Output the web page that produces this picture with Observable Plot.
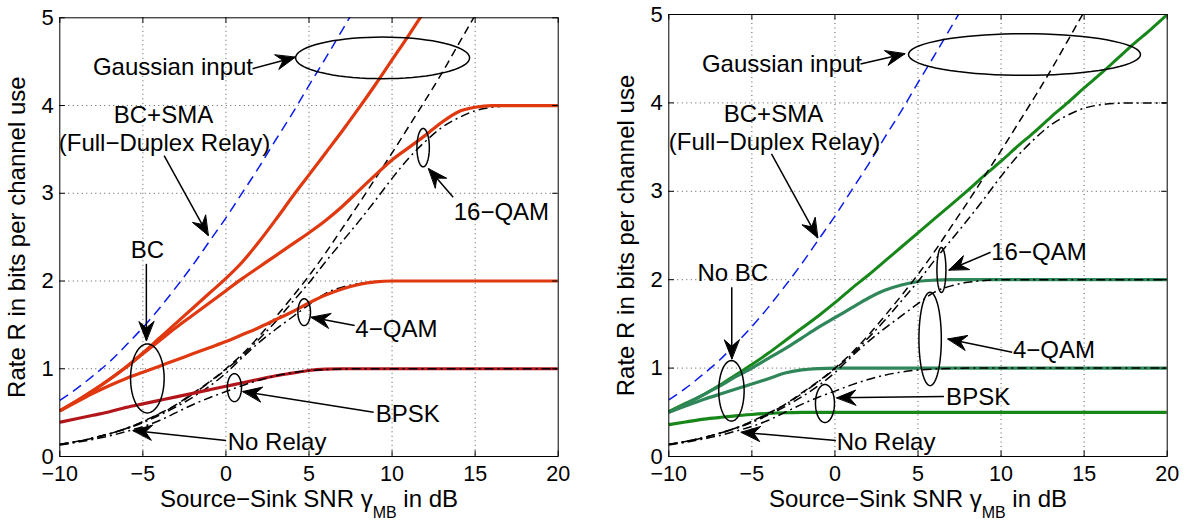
<!DOCTYPE html>
<html><head><meta charset="utf-8">
<script src="https://cdn.jsdelivr.net/npm/d3@7"></script>
<script src="https://cdn.jsdelivr.net/npm/@observablehq/plot@0.6"></script>
<style>
body{margin:0;background:#fff;}
#wrap{display:flex;width:1186px;height:520px;overflow:hidden;}
#wrap svg{flex:none;}
</style></head><body><div id="wrap"></div>
<script>
// ---------- data ----------
const snr = [-10,-9,-8,-7,-6,-5,-4,-3,-2,-1,0,1,2,3,4,5,6,7,8,9,10,11,12,13,14,15,16,17,18,19,20];
const xTicks = [-10,-5,0,5,10,15,20];
const yTicks = [0,1,2,3,4,5];
const xGrid = [-5,0,5,10,15];
const yGrid = [1,2,3,4];

// common curves
const gaussSMA = [0.64,0.77,0.92,1.08,1.27,1.47,1.69,1.93,2.18,2.45,2.72,3.01,3.30,3.61,3.91,4.23,4.54,4.86,5.18,5.50,null,null,null,null,null,null,null,null,null,null,null];
const gaussNR  = [0.14,0.17,0.21,0.26,0.32,0.40,0.49,0.59,0.72,0.85,1.00,1.17,1.37,1.59,1.82,2.06,2.32,2.60,2.88,3.17,3.46,3.76,4.06,4.37,4.70,5.03,5.35,null,null,null,null];
const bpskNR   = [0.13,0.16,0.195,0.235,0.285,0.34,0.41,0.50,0.59,0.67,0.74,0.81,0.87,0.92,0.955,0.978,0.99,0.997,1,1,1,1,1,1,1,1,1,1,1,1,1];
const qam4NR   = [0.137,0.17,0.21,0.26,0.315,0.385,0.47,0.565,0.675,0.80,0.95,1.13,1.30,1.45,1.59,1.73,1.86,1.93,1.97,1.99,2,2,2,2,2,2,2,2,2,2,2];
const qam16NR  = [0.137,0.17,0.21,0.26,0.32,0.395,0.485,0.585,0.71,0.845,0.99,1.15,1.34,1.54,1.76,1.98,2.22,2.45,2.68,2.92,3.17,3.40,3.59,3.75,3.86,3.94,3.98,3.995,4,4,4];

// left panel: full-duplex relay with BC
const gaussBC  = [0.52,0.63,0.75,0.88,1.02,1.18,1.35,1.52,1.69,1.86,2.03,2.22,2.45,2.70,2.96,3.21,3.46,3.71,3.97,4.24,4.52,4.80,5.09,5.38,null,null,null,null,null,null,null];
const qam16BC  = [0.52,0.63,0.75,0.88,1.02,1.17,1.32,1.47,1.61,1.75,1.89,2.03,2.16,2.29,2.42,2.55,2.69,2.85,3.03,3.21,3.38,3.52,3.66,3.81,3.93,3.98,4,4,4,4,4];
const qam4BC   = [0.52,0.62,0.72,0.81,0.89,0.96,1.03,1.10,1.17,1.24,1.31,1.39,1.47,1.56,1.65,1.75,1.84,1.91,1.96,1.99,2,2,2,2,2,2,2,2,2,2,2];
const bpskBC   = [0.39,0.43,0.47,0.51,0.56,0.60,0.64,0.68,0.72,0.76,0.80,0.84,0.88,0.92,0.95,0.98,0.995,1,1,1,1,1,1,1,1,1,1,1,1,1,1];

// right panel: no BC
const gaussHD  = [0.51,0.60,0.69,0.80,0.92,1.04,1.17,1.31,1.45,1.59,1.74,1.90,2.05,2.21,2.37,2.53,2.69,2.85,3.01,3.18,3.34,3.51,3.67,3.84,4.00,4.17,4.33,4.50,4.67,4.83,5.0];
const qam16HD  = [0.50,0.59,0.69,0.79,0.90,1.00,1.11,1.22,1.34,1.46,1.57,1.68,1.79,1.88,1.94,1.98,1.995,2,2,2,2,2,2,2,2,2,2,2,2,2,2];
const qam4HD   = [0.50,0.57,0.64,0.70,0.76,0.82,0.88,0.945,0.98,0.995,1,1,1,1,1,1,1,1,1,1,1,1,1,1,1,1,1,1,1,1,1];
const bpskHD   = [0.36,0.39,0.42,0.44,0.46,0.475,0.487,0.495,0.499,0.5,0.5,0.5,0.5,0.5,0.5,0.5,0.5,0.5,0.5,0.5,0.5,0.5,0.5,0.5,0.5,0.5,0.5,0.5,0.5,0.5,0.5];

// annotations
const textL = [
  {t:"Gaussian input", x:-3.19, y:4.437},
  {t:"BC+SMA", x:-3.76, y:3.886},
  {t:"(Full\u2212Duplex Relay)", x:-3.70, y:3.567},
  {t:"BC", x:-4.72, y:2.35},
  {t:"16\u2212QAM", x:16.58, y:2.785},
  {t:"4\u2212QAM", x:10.26, y:1.447},
  {t:"BPSK", x:10.95, y:0.486},
  {t:"No Relay", x:3.08, y:0.163}
];
const textR = [
  {t:"Gaussian input", x:-3.19, y:4.44},
  {t:"BC+SMA", x:-3.70, y:3.87},
  {t:"(Full\u2212Duplex Relay)", x:-3.64, y:3.555},
  {t:"No BC", x:-6.15, y:2.067},
  {t:"16\u2212QAM", x:12.28, y:2.31},
  {t:"4\u2212QAM", x:13.18, y:1.20},
  {t:"BPSK", x:8.62, y:0.67},
  {t:"No Relay", x:3.08, y:0.162}
];
const arrowsL = [
  [1.6,4.42,4.17,4.55],
  [-3.72,3.43,-1.07,2.52],
  [13.68,2.955,12.2,3.28],
  [-4.79,2.196,-4.79,1.322],
  [7.75,1.493,5.13,1.588],
  [8.89,0.505,1.02,0.741],
  [0.0,0.182,-5.59,0.296]
];
const arrowsR = [
  [1.54,4.44,4.21,4.555],
  [-3.82,3.424,-1.04,2.474],
  [9.37,2.31,6.86,2.11],
  [-6.21,1.915,-6.21,1.105],
  [10.67,1.18,6.8,1.33],
  [6.56,0.679,0.11,0.664],
  [0.06,0.181,-5.64,0.275]
];
const ellipsesL = [
  {cx:9.43, cy:4.543, rx:87, ry:20.8},
  {cx:-4.73, cy:0.89, rx:16.8, ry:34.5},
  {cx:4.71, cy:1.645, rx:6.3, ry:13.4},
  {cx:0.51, cy:0.785, rx:7.1, ry:14},
  {cx:11.87, cy:3.52, rx:6.2, ry:19.2}
];
const ellipsesR = [
  {cx:11.41, cy:4.547, rx:116, ry:20.8},
  {cx:-6.23, cy:0.743, rx:12.7, ry:30.3},
  {cx:-0.6, cy:0.60, rx:9.5, ry:19},
  {cx:6.41, cy:2.11, rx:4.5, ry:22.5},
  {cx:5.73, cy:1.33, rx:11.2, ry:46.7}
];

const yLabel = "Rate R in bits per channel use";
const xLabel = "Source\u2212Sink SNR \u03b3";
const xSub = "MB";
const xTail = " in dB";

// ---------- helpers ----------
const rows = (vals) => snr.map((x, i) => ({x, y: vals[i]}));
const RED = "#e0380f", DRED = "#b3161a", GREEN = "#17871a", TEAL = "#2f8659", BLUE = "#0b1cf0";
const fmtTick = d => d < 0 ? "\u2212" + Math.abs(d) : String(d);

function ellipsePts(list, kx, ky) {
  const out = [];
  list.forEach((e, id) => {
    for (let k = 0; k < 72; k++) {
      const a = k / 72 * 2 * Math.PI;
      out.push({id, x: e.cx + e.rx / kx * Math.cos(a), y: e.cy + e.ry / ky * Math.sin(a)});
    }
  });
  return out;
}
function headPts(list, kx, ky) {
  const out = [];
  list.forEach(([x1, y1, x2, y2], id) => {
    let dx = (x2 - x1) * kx, dy = -(y2 - y1) * ky;
    const L = Math.hypot(dx, dy); dx /= L; dy /= L;
    const nx = -dy, ny = dx;
    const len = 19, w = 7.5, notch = 12.5;
    const p = [[0, 0], [-len * dx + w * nx, -len * dy + w * ny], [-notch * dx, -notch * dy], [-len * dx - w * nx, -len * dy - w * ny]];
    p.forEach(([px, py]) => out.push({id, x: x2 + px / kx, y: y2 - py / ky}));
  });
  return out;
}

function panel(cfg) {
  const W = 593, H = 520;
  const {mL, mR, mT, mB} = cfg;
  const kx = (W - mL - mR) / 30, ky = (H - mT - mB) / 5;
  const tx = 5.5 / ky, ty = 5.5 / kx;
  const lines = cfg.curves.map(c => Plot.line(rows(c.v), {x: "x", y: "y", stroke: c.stroke, strokeWidth: c.w, strokeDasharray: c.dash, curve: "monotone-x", clip: true, strokeLinecap: "butt"}));
  const plot = Plot.plot({
    width: W, height: H,
    marginLeft: mL, marginRight: mR, marginTop: mT, marginBottom: mB,
    style: {fontFamily: "'Liberation Sans', Arial, Helvetica, sans-serif", fontSize: "22px", background: "white", color: "black"},
    x: {domain: [-10, 20]},
    y: {domain: [0, 5]},
    marks: [
      Plot.ruleX(xGrid, {x: d => d, stroke: "#555", strokeDasharray: "1,3.5", strokeWidth: 1}),
      Plot.ruleY(yGrid, {y: d => d, stroke: "#555", strokeDasharray: "1,3.5", strokeWidth: 1}),
      ...lines,
      Plot.ruleX(xTicks, {x: d => d, y1: 0, y2: tx, stroke: "black"}),
      Plot.ruleX(xTicks, {x: d => d, y1: 5, y2: 5 - tx, stroke: "black"}),
      Plot.ruleY(yTicks, {y: d => d, x1: -10, x2: -10 + ty, stroke: "black"}),
      Plot.ruleY(yTicks, {y: d => d, x1: 20, x2: 20 - ty, stroke: "black"}),
      Plot.frame({stroke: "black", strokeWidth: 1}),
      Plot.axisX({ticks: xTicks, tickSize: 0, tickPadding: 9, label: null, fontSize: 21.5, tickFormat: fmtTick}),
      Plot.axisY({ticks: yTicks, tickSize: 0, tickPadding: 6, label: null, fontSize: 22, tickFormat: fmtTick}),
      Plot.line(ellipsePts(cfg.ellipses, kx, ky), {x: "x", y: "y", z: "id", stroke: "black", strokeWidth: 1.5, curve: "linear-closed"}),
      Plot.link(cfg.arrows, {x1: d => d[0], y1: d => d[1], x2: d => d[2], y2: d => d[3], stroke: "black", strokeWidth: 1.5}),
      Plot.line(headPts(cfg.arrows, kx, ky), {x: "x", y: "y", z: "id", fill: "black", stroke: "black", strokeWidth: 1, curve: "linear-closed"}),
      Plot.text(cfg.texts, {x: "x", y: "y", text: "t", fontSize: 24, fill: "black"}),
      Plot.text([yLabel], {frameAnchor: "left", textAnchor: "middle", dx: -cfg.yLabDx, rotate: -90, fontSize: 24, fill: "black"}),
      Plot.text([xLabel], {frameAnchor: "bottom", textAnchor: "middle", dy: 50, lineAnchor: "bottom", fontSize: 24, fill: "black"})
    ]
  });
  const ns = "http://www.w3.org/2000/svg";
  plot.querySelectorAll("text").forEach(t => {
    if (t.textContent === xLabel) {
      const s1 = document.createElementNS(ns, "tspan");
      s1.setAttribute("dy", "11"); s1.setAttribute("font-size", "16"); s1.textContent = xSub;
      const s2 = document.createElementNS(ns, "tspan");
      s2.setAttribute("dy", "-11"); s2.textContent = xTail;
      t.appendChild(s1); t.appendChild(s2);
    }
  });
  return plot;
}

const wrap = document.getElementById("wrap");
wrap.appendChild(panel({
  mL: 59.3, mR: 35.3, mT: 17.3, mB: 64, yLabDx: 42,
  curves: [
    {v: gaussSMA, stroke: BLUE, w: 1.5, dash: "10,6"},
    {v: qam16NR, stroke: "black", w: 1.5, dash: "9,4,2,4"},
    {v: qam4NR, stroke: "black", w: 1.5, dash: "9,4,2,4"},
    {v: gaussNR, stroke: "black", w: 1.5, dash: "8,5"},
    {v: gaussBC, stroke: RED, w: 3.2},
    {v: qam16BC, stroke: RED, w: 3.2},
    {v: qam4BC, stroke: RED, w: 3.2},
    {v: bpskBC, stroke: DRED, w: 3.2},
    {v: bpskNR, stroke: "black", w: 1.5, dash: "9,4,2,4"}
  ],
  texts: textL, arrows: arrowsL, ellipses: ellipsesL
}));
wrap.appendChild(panel({
  mL: 75.3, mR: 19.3, mT: 14, mB: 64, yLabDx: 42,
  curves: [
    {v: gaussSMA, stroke: BLUE, w: 1.5, dash: "10,6"},
    {v: gaussHD, stroke: GREEN, w: 3},
    {v: qam16HD, stroke: TEAL, w: 3.2},
    {v: qam4HD, stroke: TEAL, w: 3.2},
    {v: bpskHD, stroke: GREEN, w: 3.2},
    {v: gaussNR, stroke: "black", w: 1.5, dash: "8,5"},
    {v: qam16NR, stroke: "black", w: 1.5, dash: "9,4,2,4"},
    {v: qam4NR, stroke: "black", w: 1.5, dash: "9,4,2,4"},
    {v: bpskNR, stroke: "black", w: 1.5, dash: "9,4,2,4"}
  ],
  texts: textR, arrows: arrowsR, ellipses: ellipsesR
}));
</script></body></html>
